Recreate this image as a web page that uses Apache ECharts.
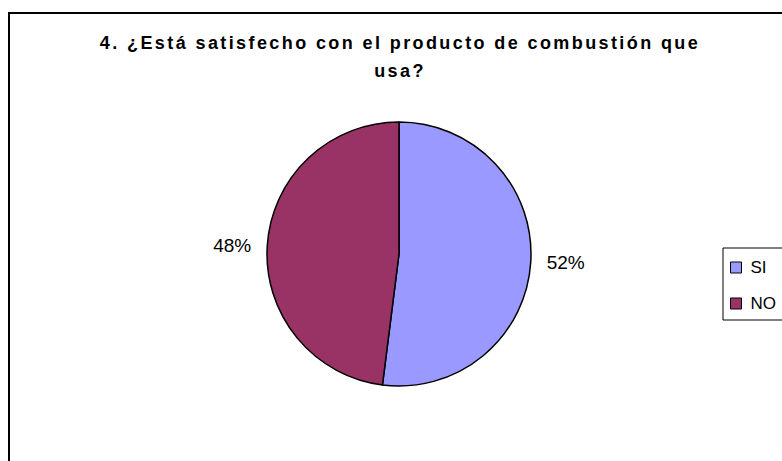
<!DOCTYPE html>
<html>
<head>
<meta charset="utf-8">
<script src="https://cdn.jsdelivr.net/npm/echarts@6/dist/echarts.min.js"></script>
<style>
  html, body { margin: 0; padding: 0; background: #fff; }
  #main { width: 782px; height: 461px; }
  /* Excel spreads the bold title letters out */
  #main text[style*="bold"] { letter-spacing: 2.4px; }
</style>
</head>
<body>
<div id="main"></div>
<script>
const titleLines = ['4. ¿Está satisfecho con el producto de combustión que', 'usa?'];
const categories = ['SI', 'NO'];
const values = [52, 48];
const colors = ['#9999FF', '#993366'];

const chart = echarts.init(document.getElementById('main'), null, {renderer: 'svg'});

const option = {
  animation: false,
  color: colors,
  textStyle: {fontFamily: 'Liberation Sans, Arial, sans-serif', color: '#000'},
  graphic: [
    {
      type: 'rect',
      shape: {x: 9, y: 13, width: 820, height: 500},
      style: {fill: 'none', stroke: '#000', lineWidth: 2},
      silent: true
    },
    {
      type: 'text',
      x: 400,
      y: 29,
      style: {
        text: titleLines.join('\n'),
        textAlign: 'center',
        textVerticalAlign: 'top',
        fontFamily: 'Liberation Sans, Arial, sans-serif',
        fontWeight: 'bold',
        fontSize: 18,
        lineHeight: 28,
        fill: '#000'
      }
    }
  ],
  legend: {
    orient: 'vertical',
    left: 723,
    top: 248,
    padding: [11, 40, 8, 7],
    itemGap: 19,
    itemWidth: 11,
    itemHeight: 11,
    icon: 'rect',
    borderColor: '#000',
    borderWidth: 1,
    itemStyle: {borderColor: '#000', borderWidth: 1},
    textStyle: {fontSize: 17, color: '#000', padding: [0, 0, 0, 4]},
    data: categories
  },
  series: [
    {
      type: 'pie',
      center: [399, 254],
      radius: 132,
      startAngle: 90,
      clockwise: true,
      avoidLabelOverlap: false,
      itemStyle: {borderColor: '#000', borderWidth: 1.5},
      label: {
        show: true,
        position: 'outside',
        formatter: '{d}%',
        fontSize: 19,
        color: '#000'
      },
      labelLine: {show: false, length: 6, length2: 5},
      emphasis: {disabled: true},
      data: categories.map((name, i) => ({name: name, value: values[i]}))
    }
  ]
};

chart.setOption(option);
</script>
</body>
</html>
